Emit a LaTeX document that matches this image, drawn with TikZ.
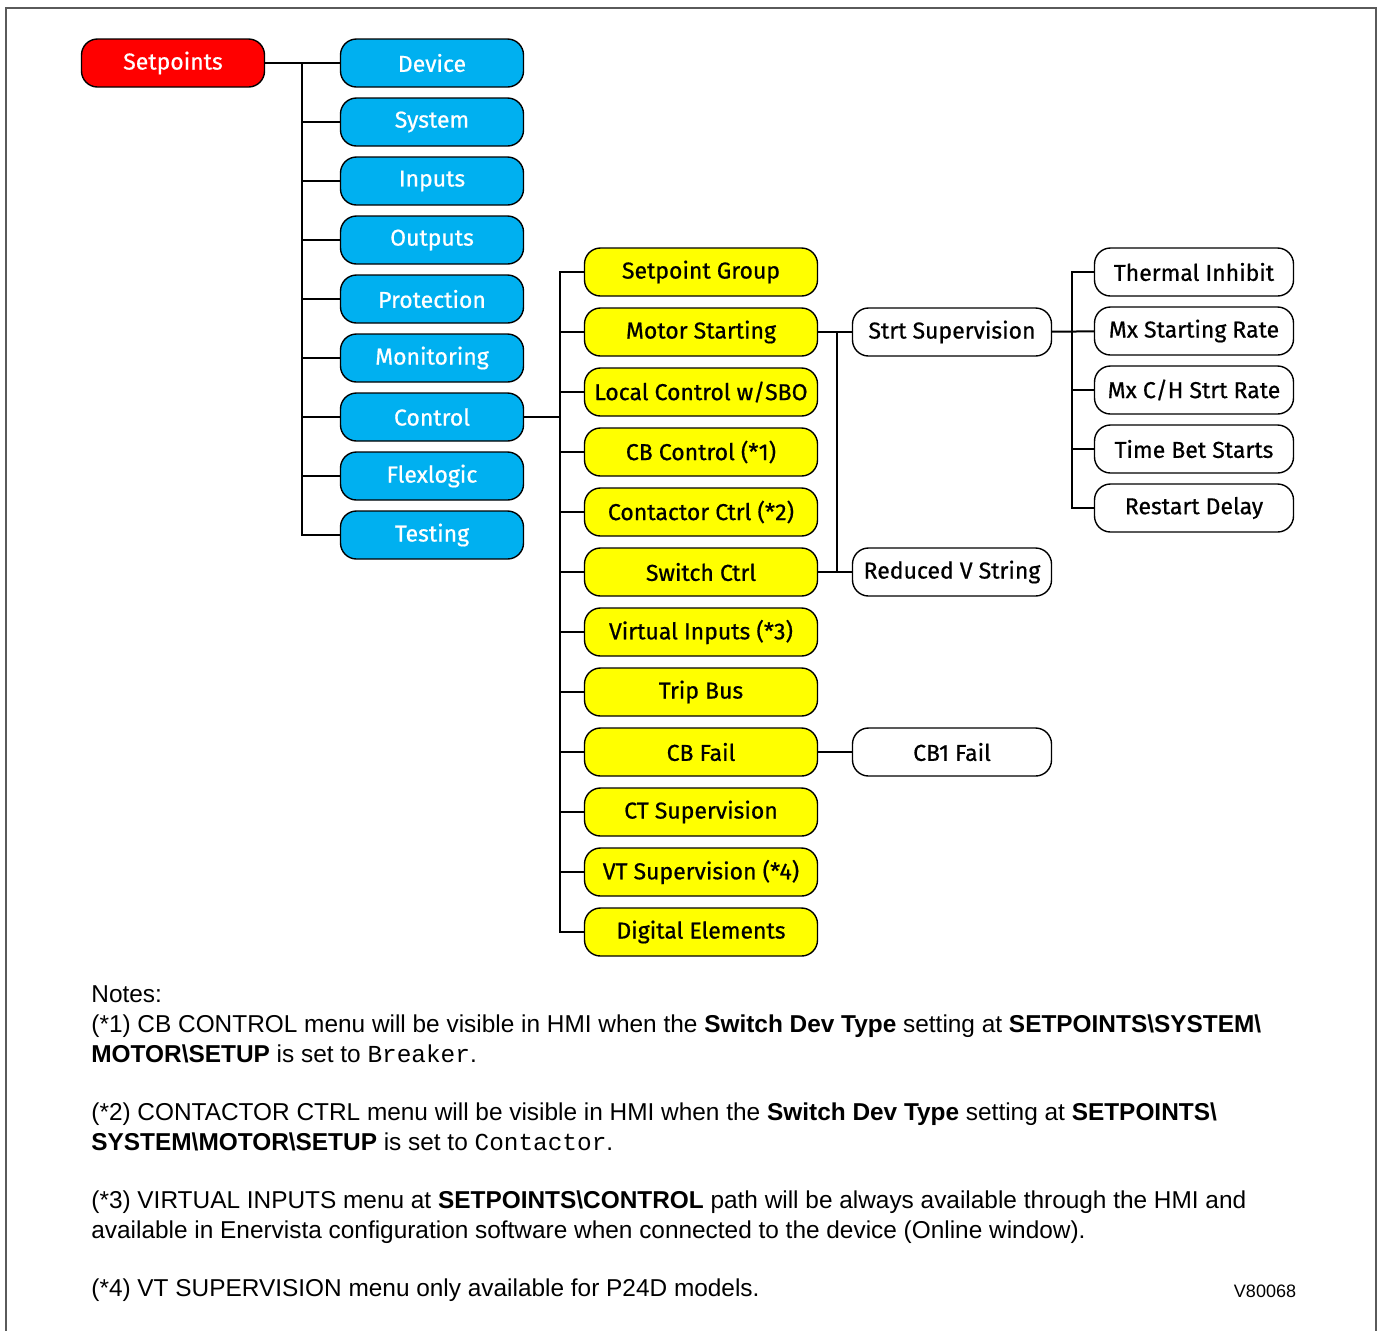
\documentclass[tikz,border=0pt]{standalone}
\usepackage{fontspec}
\setmainfont{Liberation Sans}
\setmonofont{Liberation Mono}
\newfontfamily\menufont{Fira Sans}[FakeBold=0.6]
\usetikzlibrary{positioning}
\definecolor{menured}{RGB}{255,0,0}
\definecolor{menublue}{RGB}{0,176,240}
\definecolor{menuyellow}{RGB}{255,255,0}
\definecolor{framegray}{RGB}{90,90,90}

\begin{document}
\begin{tikzpicture}[
        x=0.5pt,y=-0.5pt,
        node distance=5.5pt,
        every node/.style={font=\menufont\fontsize{11.5}{13}\selectfont},
        menubox/.style={draw,line width=0.7pt,rounded corners=8pt,
                        minimum height=24pt,inner sep=0pt,outer sep=0pt},
        rootbox/.style={menubox,fill=menured,text=white,minimum width=91.5pt},
        groupbox/.style={menubox,fill=menublue,text=white,minimum width=91.5pt},
        ctrlbox/.style={menubox,fill=menuyellow,minimum width=116.5pt},
        leafbox/.style={menubox,fill=white,minimum width=99.5pt},
        wire/.style={line width=1pt}
    ]
        \useasboundingbox (0,0) rectangle (1379,1330);
        \draw[framegray,line width=1pt] (6,1340) |- (1376,8) -- (1376,1340);

        % top level
        \node[rootbox] (setpoints) at (173,63) {Setpoints};
        \node[groupbox] (device) at (432,63) {Device};
        \node[groupbox,below=of device] (system) {System};
        \node[groupbox,below=of system] (inputs) {Inputs};
        \node[groupbox,below=of inputs] (outputs) {Outputs};
        \node[groupbox,below=of outputs] (protection) {Protection};
        \node[groupbox,below=of protection] (monitoring) {Monitoring};
        \node[groupbox,below=of monitoring] (control) {Control};
        \node[groupbox,below=of control] (flexlogic) {Flexlogic};
        \node[groupbox,below=of flexlogic] (testing) {Testing};

        % control menu
        \begin{scope}[node distance=6pt]
        \node[ctrlbox] (spgroup) at (701,272) {Setpoint Group};
        \node[ctrlbox,below=of spgroup] (motorst) {Motor Starting};
        \node[ctrlbox,below=of motorst] (localctrl) {Local Control w/SBO};
        \node[ctrlbox,below=of localctrl] (cbctrl) {CB Control (*1)};
        \node[ctrlbox,below=of cbctrl] (contctrl) {Contactor Ctrl (*2)};
        \node[ctrlbox,below=of contctrl] (swctrl) {Switch Ctrl};
        \node[ctrlbox,below=of swctrl] (virtin) {Virtual Inputs (*3)};
        \node[ctrlbox,below=of virtin] (tripbus) {Trip Bus};
        \node[ctrlbox,below=of tripbus] (cbfail) {CB Fail};
        \node[ctrlbox,below=of cbfail] (ctsup) {CT Supervision};
        \node[ctrlbox,below=of ctsup] (vtsup) {VT Supervision (*4)};
        \node[ctrlbox,below=of vtsup] (digel) {Digital Elements};
        \end{scope}

        \node[leafbox,right=17.5pt of motorst] (strtsup) {Strt Supervision};
        \node[leafbox,right=17.5pt of swctrl] (redv) {Reduced V String};
        \node[leafbox,right=17.5pt of cbfail] (cbonefail) {CB1 Fail};

        % motor starting items
        \node[leafbox] (thermal) at (1194,272) {Thermal Inhibit};
        \node[leafbox,below=of thermal] (mxstart) {Mx Starting Rate};
        \node[leafbox,below=of mxstart] (mxch) {Mx C/H Strt Rate};
        \node[leafbox,below=of mxch] (timebet) {Time Bet Starts};
        \node[leafbox,below=of timebet] (restart) {Restart Delay};

        % tree lines
        \coordinate (setbus) at (302,63);
        \draw[wire] (setpoints) -- (device);
        \foreach \m in {system,inputs,outputs,protection,monitoring,control,flexlogic,testing}
            \draw[wire] (\m.west) -| (setbus);

        \path (control.east) ++(18pt,0) coordinate (ctrlbus);
        \draw[wire] (control) -- (ctrlbus);
        \foreach \m in {spgroup,motorst,localctrl,cbctrl,contctrl,swctrl,virtin,tripbus,cbfail,ctsup,vtsup,digel}
            \draw[wire] (\m.west) -| (ctrlbus);

        \path (motorst.east) ++(9.5pt,0) coordinate (motorbus);
        \draw[wire] (motorst) -- (strtsup);
        \draw[wire] (swctrl) -- (redv);
        \draw[wire] (motorbus) -- (motorbus |- swctrl);
        \draw[wire] (cbfail) -- (cbonefail);

        \path (strtsup.east) ++(10pt,0) coordinate (supbus);
        \draw[wire] (strtsup) -- (mxstart);
        \foreach \m in {thermal,mxch,timebet,restart}
            \draw[wire] (\m.west) -| (supbus);

        % footnotes
        \node[anchor=north west,align=left,inner sep=0pt,
              font=\rmfamily\fontsize{12.2}{15}\selectfont] (notes) at (91,985) {%
            Notes:\\
            (*1) CB CONTROL menu will be visible in HMI when the \textbf{Switch Dev Type} setting at \textbf{SETPOINTS\textbackslash SYSTEM\textbackslash}\\
            \textbf{MOTOR\textbackslash SETUP} is set to \texttt{Breaker}.\\[14pt]
            (*2) CONTACTOR CTRL menu will be visible in HMI when the \textbf{Switch Dev Type} setting at \textbf{SETPOINTS\textbackslash}\\
            \textbf{SYSTEM\textbackslash MOTOR\textbackslash SETUP} is set to \texttt{Contactor}.\\[14pt]
            (*3) VIRTUAL INPUTS menu at \textbf{SETPOINTS\textbackslash CONTROL} path will be always available through the HMI and\\
            available in Enervista configuration software when connected to the device (Online window).\\[14pt]
            (*4) VT SUPERVISION menu only available for P24D models.};
        \node[font=\rmfamily\fontsize{9}{11}\selectfont] (figid) at (1265,1291) {V80068};
    \end{tikzpicture}
\end{document}
